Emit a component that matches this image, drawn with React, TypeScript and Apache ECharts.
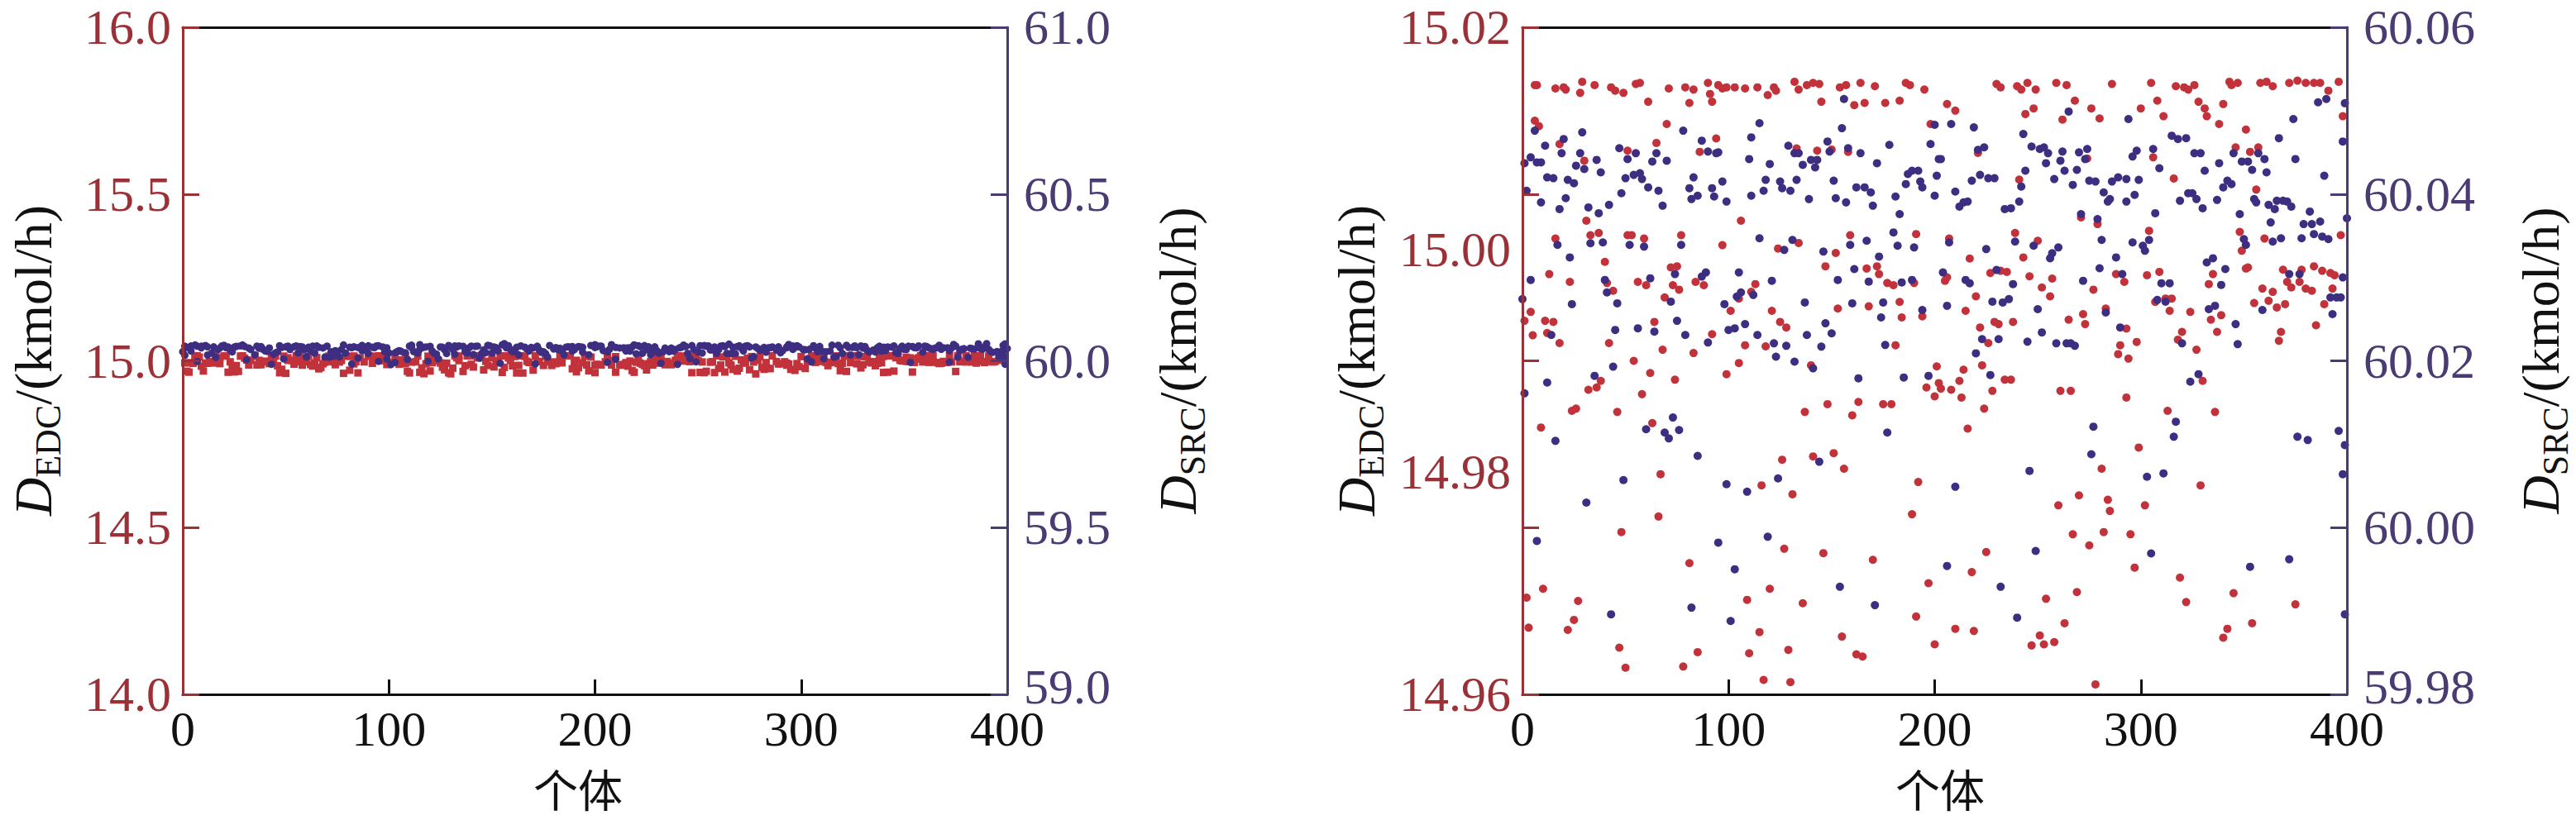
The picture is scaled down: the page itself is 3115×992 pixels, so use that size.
import React, { useEffect, useRef } from "react";
import * as echarts from "echarts";

// Individual index (0-400) and D_EDC value
const edcPoints: [number, number][] = [
  [6,15.0148],[7,15.0148],[16,15.0145],[20,15.0146],[21,15.0144],[28,15.0141],[29,15.0151],[35,15.0148],[43,15.0146],[45,15.0143],[49,15.0141],[55,15.0149],[57,15.015],[61,15.0133],[71,15.0145],[79,15.0146],[81,15.0132],[83,15.0144],[90,15.015],[91,15.014],[92,15.0133],[95,15.0148],[97,15.0145],[99,15.0146],[103,15.0146],[108,15.0145],[114,15.0146],[119,15.0139],[122,15.0146],[123,15.0143],[132,15.0151],[134,15.0144],[138,15.0148],[141,15.015],[144,15.0149],[145,15.0133],[154,15.0146],[157,15.0148],[161,15.013],[164,15.015],[166,15.0132],[171,15.0147],[176,15.0132],[183,15.0134],[186,15.015],[188,15.0148],[195,15.0144],
  [6,15.0116],[8,15.0111],[70,15.0113],[18,15.0095],[51,15.0089],[65,15.0096],[94,15.01],[86,15.0088],[133,15.0091],[143,15.0089],[150,15.009],[158,15.0088],[30,15.008],[198,15.0113],
  [31,15.0026],[16,15.001],[33,15.0013],[37,15.0015],[51,15.0013],[53,15.0013],[59,15.001],[77,15.0013],[106,15.0026],[97,15.0004],[124,15.0001],[134,15.0006],[159,15.0013],[191,15.0014],[152,14.9997],
  [40,14.9989],[13,14.9978],[72,14.9984],[75,14.9985],[147,14.9985],[167,14.9983],[172,14.9985],[173,14.9978],[23,14.9971],[41,14.997],[44,14.9963],[56,14.9971],[60,14.9968],[73,14.9968],[76,14.9964],[84,14.9971],[88,14.9968],[113,14.9969],[111,14.9962],[105,14.9956],[177,14.997],[180,14.9968],[190,14.997],[69,14.9957],
  [4,14.9944],[1,14.9936],[11,14.9936],[15,14.9935],[101,14.9945],[121,14.9945],[153,14.9947],[168,14.9949],[183,14.9953],[5,14.9923],[12,14.9925],[18,14.9916],[64,14.9935],[125,14.9935],[128,14.993],[184,14.9939],[194,14.994],[92,14.9924],[42,14.9916],[68,14.991],[83,14.9907],[108,14.9914],[118,14.9913],[181,14.9914],
  [54,14.99],[105,14.9898],[140,14.9896],[99,14.9888],[62,14.9889],[74,14.9883],[38,14.9882],[36,14.9876],[32,14.9874],[201,14.9895],[196,14.9876],[202,14.988],[200,14.9868],[58,14.987],
  [24,14.9855],[26,14.9857],[46,14.9854],[137,14.9854],[148,14.9861],[163,14.9863],[175,14.9861],[179,14.9861],[160,14.9851],[9,14.984],[63,14.9844],
  [126,14.9811],[141,14.9814],[151,14.9817],[156,14.9803],[67,14.9798],[116,14.9788],[131,14.978],[192,14.9791],[66,14.976],[189,14.9762],
  [48,14.9746],[127,14.9731],[146,14.9727],[170,14.9721],[81,14.9718],[10,14.9695],[2,14.9687],[27,14.9684],[120,14.9695],[109,14.9685],[136,14.9682],[197,14.97],[25,14.9667],[3,14.966],[22,14.9658],[191,14.967],[115,14.9656],[155,14.9652],[47,14.9642],[85,14.9638],[110,14.9637],[129,14.964],[162,14.9636],[165,14.9634],[200,14.9645],[50,14.9624],[78,14.9625],[117,14.9613],[130,14.9611],
  [230,15.0149],[232,15.0146],[240,15.0147],[242,15.0144],[245,15.015],[249,15.0144],[259,15.015],[264,15.0148],[286,15.0149],[305,15.015],[317,15.0147],[321,15.0146],[323,15.0144],[326,15.0148],[343,15.0151],[344,15.0148],[347,15.015],[358,15.015],[361,15.0151],[364,15.0147],[372,15.015],[376,15.0152],[380,15.015],[384,15.015],[387,15.015],[396,15.0151],[391,15.0143],
  [206,15.0131],[210,15.0125],[244,15.0122],[248,15.0127],[262,15.0117],[268,15.0134],[276,15.0127],[280,15.0118],[300,15.0127],[308,15.0134],[311,15.012],[328,15.0133],[331,15.0127],[332,15.012],[338,15.0113],[340,15.0131],[351,15.0108],[398,15.012],
  [221,15.0087],[241,15.0063],[274,15.0082],[306,15.0083],[316,15.0064],[346,15.0092],[353,15.0088],[357,15.0092],[356,15.0054],
  [207,15.001],[239,15.0015],[250,15.0008],[304,15.0017],[348,15.0016],[349,14.9999],[360,15.001],[397,15.0013],[271,15.0029],[279,15.0023],
  [217,14.9992],[243,14.9993],[227,14.9979],[232,14.9981],[235,14.998],[205,14.9972],[206,14.9975],[246,14.9976],[257,14.9974],[252,14.9966],[256,14.9958],[220,14.9958],[277,14.9964],[288,14.9978],[292,14.9971],[303,14.9977],[309,14.998],[335,14.9978],[333,14.9969],[351,14.9983],[352,14.9984],[369,14.9982],[371,14.9971],[373,14.9966],[377,14.9971],[378,14.9982],[384,14.9985],[388,14.9981],[392,14.9979],[394,14.9977],[393,14.9965],[380,14.9965],[383,14.9963],[359,14.9965],[364,14.9962],[355,14.9952],[362,14.9954],[366,14.9948],[370,14.9951],[389,14.9951],
  [215,14.9945],[222,14.993],[229,14.9935],[231,14.9933],[238,14.9935],[226,14.9916],[265,14.9937],[272,14.9942],[273,14.9933],[283,14.9947],[307,14.9953],[312,14.9956],[315,14.9956],[314,14.9945],[324,14.9944],[334,14.9937],[339,14.9941],[337,14.9926],[293,14.9929],[290,14.9914],[298,14.9917],[289,14.9906],[294,14.9902],[320,14.9926],[318,14.9919],[327,14.991],[368,14.9926],[367,14.9918],[385,14.9932],
  [214,14.9892],[223,14.9896],[212,14.9882],[203,14.9875],[208,14.9874],[213,14.9867],[228,14.9873],[234,14.9883],[237,14.9883],[261,14.9873],[266,14.9873],[330,14.9882],[224,14.9857],[293,14.9867],[313,14.9855],[336,14.9854],[216,14.9839],
  [299,14.9822],[281,14.9803],[329,14.9788],[270,14.9779],[284,14.9775],[285,14.9765],[302,14.977],[260,14.977],[267,14.9744],[282,14.9746],[295,14.9744],[275,14.9734],[297,14.9714],[225,14.9728],[218,14.971],[319,14.9705],[322,14.9683],[254,14.9686],[269,14.9692],[345,14.9691],[375,14.9681],[354,14.9664],[263,14.9664],[210,14.9659],[219,14.9657],[342,14.9659],[340,14.9651],[251,14.9653],[258,14.9647],[253,14.9645],[247,14.9644],[278,14.9609],
];

// Individual index (0-400) and D_SRC value
const srcPoints: [number, number][] = [
  [6,60.0476],[20,60.0466],[29,60.0474],[78,60.0476],[115,60.0485],[155,60.0479],[11,60.0458],[87,60.0464],[111,60.0468],[148,60.0463],[178,60.0459],[198,60.046],[200,60.0483],[156,60.0514],
  [4,60.0444],[1,60.0437],[7,60.0438],[9,60.0438],[19,60.0449],[28,60.0449],[26,60.0434],[30,60.043],[36,60.0441],[47,60.0455],[51,60.0442],[55,60.0449],[63,60.0439],[65,60.0449],[70,60.044],[90,60.0451],[94,60.0449],[95,60.045],[110,60.0442],[120,60.0436],[129,60.0458],[132,60.0449],[134,60.0449],[136,60.0435],[140,60.0441],[142,60.0432],[143,60.0441],[149,60.0451],[158,60.0455],[164,60.0449],[172,60.0437],[202,60.0442],
  [12,60.042],[15,60.0419],[22,60.0417],[25,60.0413],[38,60.0426],[50,60.0419],[54,60.0423],[57,60.0425],[58,60.0418],[83,60.042],[97,60.0415],[118,60.0417],[125,60.0415],[133,60.0417],[151,60.0416],[187,60.0424],[189,60.0428],[192,60.0428],[201,60.0422],[186,60.0412],[193,60.0415],[194,60.0408],
  [2,60.0404],[9,60.039],[21,60.0395],[18,60.0382],[32,60.0384],[37,60.0377],[42,60.0387],[48,60.0401],[61,60.0408],[66,60.0404],[68,60.0386],[81,60.0407],[82,60.0394],[85,60.0398],[92,60.0407],[93,60.0397],[99,60.0391],[111,60.0398],[117,60.0404],[126,60.0407],[130,60.0404],[139,60.0394],[152,60.0395],[157,60.039],[162,60.0408],[166,60.0408],[169,60.0402],[170,60.0386],[181,60.0397],[183,60.0376],[200,60.0398],
  [17,60.0339],[33,60.0341],[39,60.0342],[52,60.0339],[59,60.0337],[77,60.0339],[115,60.0347],[127,60.0333],[131,60.0345],[146,60.0331],[159,60.0339],[167,60.0344],[180,60.0354],[182,60.0338],[190,60.0336],[173,60.0325],[23,60.0324],
  [4,60.0297],[40,60.0297],[62,60.0299],[74,60.0304],[87,60.0301],[89,60.0306],[105,60.0306],[121,60.0296],[153,60.0297],[161,60.031],[168,60.0295],[184,60.0294],[189,60.0297],[194,60.0261],[0,60.0274],[24,60.0268],[41,60.0282],[46,60.0269],[72,60.0271],[106,60.0282],[104,60.0277],[112,60.0279],[98,60.0268],[137,60.027],[160,60.0269],[175,60.027],[174,60.0252],
  [45,60.0237],[56,60.0239],[64,60.0235],[75,60.0248],[79,60.0231],[90,60.0222],[100,60.0237],[103,60.0239],[108,60.0244],[114,60.0231],[122,60.0221],[128,60.0218],[138,60.0231],[147,60.0245],[150,60.0233],[145,60.0217],[176,60.0219],[14,60.0231],
  [44,60.0193],[35,60.0182],[12,60.0174],[1,60.0161],[123,60.0205],[132,60.0199],[141,60.0191],[163,60.0179],[185,60.018],[197,60.0182],
  [73,60.0132],[60,60.0118],[69,60.0114],[71,60.0107],[76,60.0117],[16,60.0104],[177,60.0114],[85,60.0086],[144,60.0079],[49,60.0057],[99,60.0052],[109,60.0043],[124,60.0059],[31,60.003],[7,59.9984],[95,59.9982],[119,59.9989],[103,59.995],[154,59.9929],[82,59.9904],[171,59.9907],[43,59.9896],[101,59.9888],
  [208,60.0484],[219,60.048],[294,60.049],[265,60.0499],[374,60.049],[386,60.051],[390,60.0514],[399,60.0509],
  [203,60.0442],[221,60.0453],[224,60.0456],[243,60.0472],[247,60.0457],[251,60.0454],[253,60.0456],[255,60.0449],[262,60.0451],[270,60.045],[274,60.0454],[261,60.044],[254,60.0437],[263,60.0428],[269,60.0429],[273,60.0442],[296,60.0445],[298,60.0452],[306,60.0454],[309,60.0431],[315,60.047],[318,60.0466],[322,60.0467],[326,60.0449],[329,60.0449],[338,60.0437],[345,60.0449],[349,60.0439],[352,60.0439],[354,60.0429],[357,60.0449],[360,60.0442],[361,60.0426],[367,60.0467],[375,60.0442],[398,60.0463],[331,60.0428],
  [218,60.0416],[222,60.0423],[226,60.0419],[229,60.0419],[244,60.0428],[242,60.0409],[258,60.0418],[267,60.0411],[275,60.0416],[278,60.0415],[286,60.0415],[289,60.042],[293,60.0418],[299,60.0417],[342,60.0416],[340,60.0408],[344,60.0412],[389,60.0422],
  [210,60.0403],[212,60.0385],[214,60.039],[216,60.0391],[234,60.0382],[237,60.0383],[241,60.0391],[271,60.0376],[279,60.037],[282,60.0402],[285,60.0394],[284,60.0391],[293,60.0391],[297,60.0399],[307,60.0377],[319,60.0392],[323,60.0401],[325,60.0401],[327,60.0394],[330,60.0383],[337,60.0393],[348,60.0376],[355,60.0394],[356,60.039],[362,60.0387],[365,60.0382],[366,60.0392],[369,60.0392],[371,60.0391],[373,60.0385],[382,60.0379],[363,60.0366],[379,60.0364],[383,60.0364],[387,60.0367],[400,60.0371],
  [207,60.0342],[225,60.0334],[239,60.0343],[248,60.0338],[260,60.0336],[257,60.0329],[256,60.0323],[281,60.0345],[296,60.0342],[301,60.0338],[302,60.0332],[304,60.0345],[288,60.0324],[351,60.0339],[350,60.0346],[364,60.0343],[368,60.0347],[378,60.0347],[384,60.0352],[388,60.0349],[391,60.0346],[398,60.03],
  [204,60.0306],[215,60.0297],[217,60.0293],[230,60.0309],[238,60.0292],[272,60.0296],[280,60.0311],[291,60.0304],[332,60.0318],[335,60.0323],[341,60.031],[339,60.0291],[310,60.0293],[314,60.0293],[372,60.0304],[377,60.0304],
  [206,60.0266],[228,60.0271],[233,60.027],[236,60.0274],[250,60.0262],[283,60.0258],[308,60.0273],[312,60.0271],[333,60.0262],[336,60.0266],[392,60.0276],[395,60.0276],[397,60.0276],[393,60.0256],[359,60.0261],
  [223,60.0226],[231,60.0226],[245,60.0223],[252,60.0234],[259,60.0221],[264,60.0221],[266,60.0221],[268,60.0218],[290,60.024],[320,60.0221],[346,60.0244],[347,60.022],[220,60.0209],[227,60.0183],[324,60.0175],[328,60.0184],
  [277,60.0121],[317,60.0127],[316,60.0109],[376,60.0109],[381,60.0105],[396,60.0116],[399,60.0099],[276,60.0088],[246,60.0068],[210,60.0049],[303,60.0061],[311,60.0065],[398,60.0064],[249,59.9972],[305,59.9969],[206,59.9954],[353,59.9953],[372,59.9962],[232,59.9929],[240,59.9892],[399,59.9896],
];

// Axis ranges / tick steps
const xRange = [0, 400];
const xStep = 100;
const leftEdcRange = [14, 16];
const leftSrcRange = [59, 61];
const leftStep = 0.5;
const rightEdcRange = [14.96, 15.02];
const rightSrcRange = [59.98, 60.06];
const rightStep = 0.02;
const xName = "个体";

const SERIF = "Liberation Serif";
const CJK = "Noto Sans CJK SC";
const RED_AXIS = "#9b3036";
const PURPLE_AXIS = "#4a3c72";
const RED_PT = "#c2323a";
const BLUE_PT = "#3e2e82";
const BLACK = "#111111";

function xAxes(gridIndex: number) {
  return [
    {
      type: "value", gridIndex, position: "bottom", min: xRange[0], max: xRange[1], interval: xStep, z: 1,
      axisLine: { show: true, onZero: false, lineStyle: { color: BLACK, width: 3 } },
      axisTick: { show: true, inside: true, length: 18, lineStyle: { color: BLACK, width: 3 } },
      axisLabel: { show: true, color: BLACK, fontFamily: SERIF, fontSize: 60, lineHeight: 44, margin: 20 },
      splitLine: { show: false },
    },
    {
      type: "value", gridIndex, position: "top", min: xRange[0], max: xRange[1], interval: xStep, z: 1,
      axisLine: { show: true, onZero: false, lineStyle: { color: BLACK, width: 3 } },
      axisTick: { show: false }, axisLabel: { show: false }, splitLine: { show: false },
    },
  ];
}

function yAxis(gridIndex: number, position: string, range: number[], step: number, color: string, digits: number, showTick: boolean, margin: number, liftMin: boolean) {
  return {
    type: "value", gridIndex, position, min: range[0], max: range[1], interval: step, z: 3,
    axisLine: { show: true, onZero: false, lineStyle: { color, width: 3 } },
    axisTick: { show: showTick, inside: true, length: 20, lineStyle: { color, width: 3 } },
    axisLabel: {
      show: true, color, fontFamily: SERIF, fontSize: 60, lineHeight: 40, margin,
      formatter: (v: number, idx: number) => {
        const s = v.toFixed(digits);
        return liftMin && idx === 0 ? `{lo|${s}}` : s;
      },
      rich: { lo: { color, fontFamily: SERIF, fontSize: 60, lineHeight: 40, padding: [0, 0, 18, 0] } },
    },
    splitLine: { show: false },
  };
}

function nameText(x: number, sub: string) {
  return {
    type: "text", x, y: 436, rotation: Math.PI / 2, z: 10,
    style: {
      text: `{d|D}{s|${sub}}{n|/(kmol/h)}`,
      align: "center", verticalAlign: "middle", fill: BLACK,
      rich: {
        d: { fontFamily: SERIF, fontStyle: "italic", fontSize: 64, verticalAlign: "top", fill: BLACK },
        s: { fontFamily: SERIF, fontSize: 44, lineHeight: 72, verticalAlign: "bottom", fill: BLACK },
        n: { fontFamily: SERIF, fontSize: 64, verticalAlign: "top", fill: BLACK },
      },
    },
  };
}

function xNameText(x: number) {
  return {
    type: "text", x, y: 953, z: 10,
    style: { text: xName, fontFamily: CJK, fontSize: 54, lineHeight: 56, fill: BLACK, align: "center", verticalAlign: "middle" },
  };
}

export default function App() {
  const ref = useRef<HTMLDivElement>(null);
  useEffect(() => {
    if (!ref.current) return;
    const chart = echarts.init(ref.current, undefined, { renderer: "svg" });
    const option: any = {
      animation: false,
      backgroundColor: "#ffffff",
      grid: [
        { left: 221, top: 33, width: 997, height: 807, containLabel: false },
        { left: 1841, top: 33, width: 997, height: 807, containLabel: false },
      ],
      xAxis: [...xAxes(0), ...xAxes(1)],
      yAxis: [
        yAxis(0, "left", leftEdcRange, leftStep, RED_AXIS, 1, true, 14, false),
        yAxis(0, "right", leftSrcRange, leftStep, PURPLE_AXIS, 1, true, 20, true),
        yAxis(1, "left", rightEdcRange, rightStep, RED_AXIS, 2, false, 14, false),
        yAxis(1, "right", rightSrcRange, rightStep, PURPLE_AXIS, 2, true, 20, true),
        {
          type: "value", gridIndex: 1, position: "left", min: 0, max: 4, interval: 1, z: 3,
          axisLine: { show: false },
          axisTick: { show: true, inside: true, length: 20, lineStyle: { color: RED_AXIS, width: 3 } },
          axisLabel: { show: false }, splitLine: { show: false },
        },
      ],
      series: [
        { type: "scatter", xAxisIndex: 0, yAxisIndex: 0, data: edcPoints, symbol: "rect", symbolSize: 9, itemStyle: { color: RED_PT, opacity: 1 } },
        { type: "scatter", xAxisIndex: 0, yAxisIndex: 1, data: srcPoints, symbol: "circle", symbolSize: 9, itemStyle: { color: BLUE_PT, opacity: 1 } },
        { type: "scatter", xAxisIndex: 2, yAxisIndex: 2, data: edcPoints, symbol: "circle", symbolSize: 10, itemStyle: { color: RED_PT, opacity: 1 } },
        { type: "scatter", xAxisIndex: 2, yAxisIndex: 3, data: srcPoints, symbol: "circle", symbolSize: 10, itemStyle: { color: BLUE_PT, opacity: 1 } },
      ],
      graphic: [
        nameText(44, "EDC"),
        nameText(1428, "SRC"),
        nameText(1644, "EDC"),
        nameText(3076, "SRC"),
        xNameText(699),
        xNameText(2346),
      ],
    };
    chart.setOption(option);
    return () => chart.dispose();
  }, []);
  return <div ref={ref} style={{ position: "fixed", left: 0, top: 0, width: 3115, height: 992, background: "#fff" }} />;
}
